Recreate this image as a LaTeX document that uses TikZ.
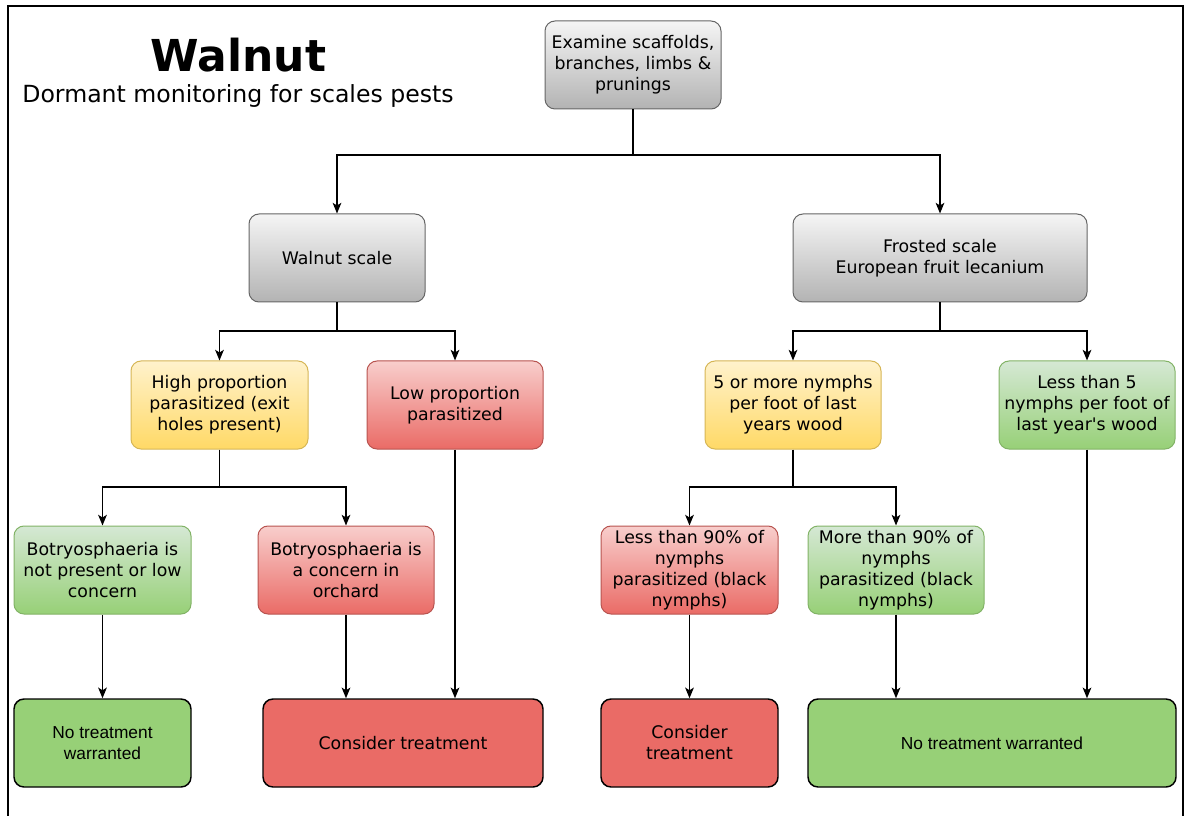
\documentclass[tikz,border=0pt]{standalone}
\usepackage{fontspec}
\setmainfont{DejaVu Sans}
\newfontfamily\arialfont{Liberation Sans}
\usetikzlibrary{arrows.meta}
\definecolor{gS}{HTML}{666666}\definecolor{gT}{HTML}{F5F5F5}\definecolor{gB}{HTML}{B3B3B3}
\definecolor{yS}{HTML}{D6B656}\definecolor{yT}{HTML}{FFF2CC}\definecolor{yB}{HTML}{FFD966}
\definecolor{rS}{HTML}{B85450}\definecolor{rT}{HTML}{F8CECC}\definecolor{rB}{HTML}{EA6B66}
\definecolor{grS}{HTML}{82B366}\definecolor{grT}{HTML}{D5E8D4}\definecolor{grB}{HTML}{97D077}
\begin{document}
\begin{tikzpicture}[x=0.75pt,y=-0.75pt,
  box/.style={rectangle,rounded corners=7.5pt,minimum width=132pt,minimum height=66pt,
    inner sep=0pt,align=center,line width=0.75pt,font=\fontsize{13}{15.75}\selectfont},
  graybox/.style={box,draw=gS,top color=gT,bottom color=gB},
  yellowbox/.style={box,draw=yS,top color=yT,bottom color=yB},
  redbox/.style={box,draw=rS,top color=rT,bottom color=rB},
  greenbox/.style={box,draw=grS,top color=grT,bottom color=grB},
  redend/.style={box,draw=black,fill=rB,line width=1.1pt},
  greenend/.style={box,draw=black,fill=grB,line width=1.1pt},
  conn/.style={line width=1.05pt,-{Stealth[length=8pt,width=6.5pt,inset=2pt]}},
  seg/.style={line width=1.05pt}]
\useasboundingbox (0,0) rectangle (1185,816);
\draw[line width=1.6pt] (8,816) -- (8,6) -- (1183,6) -- (1183,816);

\node[anchor=base,font=\bfseries\fontsize{33}{40}\selectfont] (title) at (238.5,72) {Walnut};
\node[anchor=base,font=\fontsize{17.7}{21}\selectfont] (subtitle) at (238,103) {Dormant monitoring for scales pests};

\node[graybox] (ex) at (633,65) {Examine scaffolds,\\branches, limbs \&\\prunings};
\node[graybox] (ws) at (337,258) {Walnut scale};
\node[graybox,minimum width=220.5pt] (fs) at (940,258) {Frosted scale\\European fruit lecanium};

\node[yellowbox,minimum width=132.75pt] (hp) at (219.5,405) {High proportion\\parasitized (exit\\holes present)};
\node[redbox] (lp) at (455,405) {Low proportion\\parasitized};
\node[yellowbox] (fm) at (793,405) {5 or more nymphs\\per foot of last\\years wood};
\node[greenbox] (lt) at (1087,405) {Less than 5\\nymphs per foot of\\last year\textquotesingle s wood};

\node[greenbox,minimum width=132.75pt] (bn) at (102.5,570) {Botryosphaeria is\\not present or low\\concern};
\node[redbox] (bc) at (346,570) {Botryosphaeria is\\a concern in\\orchard};
\node[redbox,minimum width=132.75pt] (l90) at (689.5,570) {Less than 90\% of\\nymphs\\parasitized (black\\nymphs)};
\node[greenbox] (m90) at (896,570) {More than 90\% of\\nymphs\\parasitized (black\\nymphs)};

\node[greenend,minimum width=132.75pt,font=\arialfont\fontsize{13}{15.75}\selectfont] (nt1) at (102.5,743) {No treatment\\warranted};
\node[redend,minimum width=210pt] (ct1) at (403,743) {Consider treatment};
\node[redend,minimum width=132.75pt] (ct2) at (689.5,743) {Consider\\treatment};
\node[greenend,minimum width=276pt,font=\arialfont\fontsize{13}{15.75}\selectfont] (nt2) at (992,743) {No treatment warranted};

\coordinate (j1) at (633,155);
\coordinate (j2) at (337,331);
\coordinate (j3) at (940,331);
\coordinate (j4) at (219.5,487);
\coordinate (j5) at (793,487);

\draw[seg] (ex.south) -- (j1);
\draw[conn] (j1) -| (ws.north);
\draw[conn] (j1) -| (fs.north);
\draw[seg] (ws.south) -- (j2);
\draw[conn] (j2) -| (hp.north);
\draw[conn] (j2) -| (lp.north);
\draw[seg] (fs.south) -- (j3);
\draw[conn] (j3) -| (fm.north);
\draw[conn] (j3) -| (lt.north);
\draw[seg] (hp.south) -- (j4);
\draw[conn] (j4) -| (bn.north);
\draw[conn] (j4) -| (bc.north);
\draw[seg] (fm.south) -- (j5);
\draw[conn] (j5) -| (l90.north);
\draw[conn] (j5) -| (m90.north);

\draw[conn] (bn.south) -- (nt1.north);
\draw[conn] (bc.south) -- (bc.south |- ct1.north);
\draw[conn] (lp.south) -- (lp.south |- ct1.north);
\draw[conn] (l90.south) -- (ct2.north);
\draw[conn] (m90.south) -- (m90.south |- nt2.north);
\draw[conn] (lt.south) -- (lt.south |- nt2.north);
\end{tikzpicture}
\end{document}
